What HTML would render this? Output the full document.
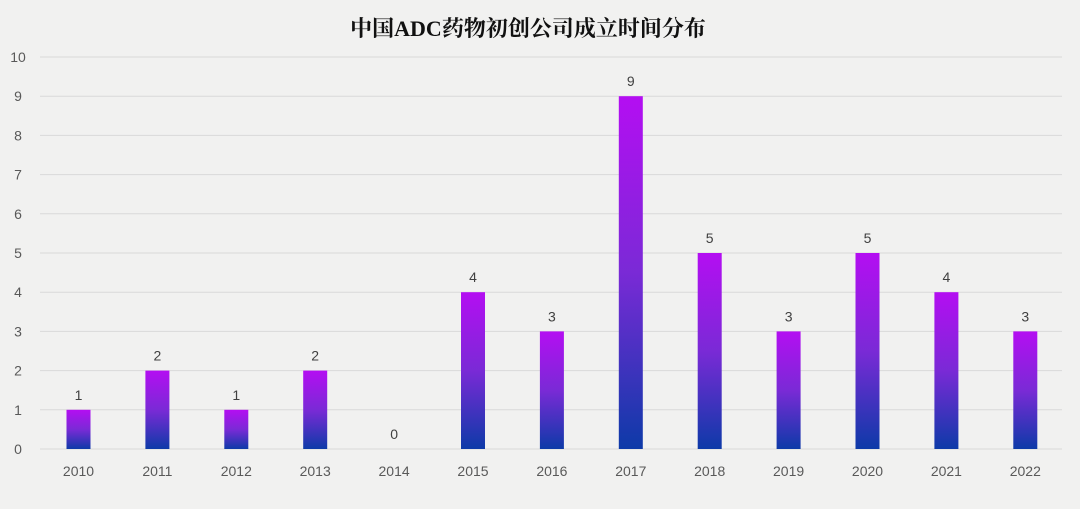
<!DOCTYPE html>
<html><head><meta charset="utf-8"><style>
html,body{margin:0;padding:0;background:#f1f1f0;}
svg{display:block;font-family:"Liberation Sans","Noto Sans CJK SC",sans-serif;}
</style></head><body>
<svg id="chart" width="1080" height="509" viewBox="0 0 1080 509">
<defs><linearGradient id="g" x1="0" y1="0" x2="0" y2="1"><stop offset="0" stop-color="#b40ef2"/><stop offset="0.5" stop-color="#7a2ad6"/><stop offset="1" stop-color="#0d3aa8"/></linearGradient></defs>
<rect x="0" y="0" width="1080" height="509" fill="#f1f1f0"/>
<text x="528" y="36" text-anchor="middle" font-family="'Liberation Serif','Noto Serif CJK SC',serif" font-weight="bold" font-size="22" fill="#111">中国ADC药物初创公司成立时间分布</text>
<g id="grid"></g><g id="bars"></g><g id="labels"></g>
</svg>
<script>
const categories=["2010","2011","2012","2013","2014","2015","2016","2017","2018","2019","2020","2021","2022"];
const values=[1,2,1,2,0,4,3,9,5,3,5,4,3];
const yTicks=[0,1,2,3,4,5,6,7,8,9,10];
const NS="http://www.w3.org/2000/svg";
const y0=449,unit=39.2,x0=78.5,step=78.9,bw=24;
function yScale(v){return y0-v*unit;}
function xScale(i){return x0+i*step;}
function mk(tag,attrs,parent){const e=document.createElementNS(NS,tag);for(const k in attrs)e.setAttribute(k,attrs[k]);parent.appendChild(e);return e;}
const grid=document.getElementById('grid'),bars=document.getElementById('bars'),labels=document.getElementById('labels');
yTicks.forEach(t=>{
  const l=mk('line',{x1:40,x2:1062,y1:yScale(t),y2:yScale(t),stroke:'#d9d9d9','stroke-width':1},grid);
  
  
  const tx=mk('text',{x:18,y:yScale(t)+5,'text-anchor':'middle','font-size':14,fill:'#595959'},grid);
  tx.textContent=t;
  
  
});
categories.forEach((c,i)=>{
  const v=values[i],cx=xScale(i);
  if(v>0){
    const r=mk('rect',{x:cx-bw/2,y:yScale(v),width:bw,height:y0-yScale(v),fill:'url(#g)'},bars);
    
    
  }
  const vl=mk('text',{x:cx,y:yScale(v)-10,'text-anchor':'middle','font-size':14,fill:'#404040'},labels);
  vl.textContent=v;
  
  
  const xl=mk('text',{x:cx,y:476,'text-anchor':'middle','font-size':14,fill:'#595959'},labels);
  xl.textContent=c;
  
  
});
</script>
</body></html>
